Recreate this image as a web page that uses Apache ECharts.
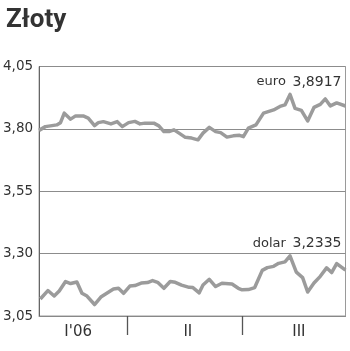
<!DOCTYPE html>
<html>
<head>
<meta charset="utf-8">
<script src="https://cdn.jsdelivr.net/npm/echarts@6/dist/echarts.min.js"></script>
<style>
html,body{margin:0;padding:0;background:#fff;}
#chart{width:350px;height:351px;}
</style>
</head>
<body>
<div id="chart"></div>
<script>
// Day of year 2006 (0 = 1 Jan)
var euroDays = [20,25,29,34,37,40,45,49,55,59,64,67,71,77,82,86,91,96,100,104,111,115,119,123,127,131,136,141,146,150,155,160,164,169,174,179,182,186,192,198,206,211,215,219,223,228,233,238,243,247,251,256,263];
var euroValues = [3.794,3.809,3.812,3.816,3.825,3.863,3.839,3.852,3.852,3.843,3.813,3.825,3.829,3.820,3.829,3.809,3.825,3.830,3.820,3.823,3.823,3.812,3.789,3.789,3.796,3.783,3.766,3.763,3.756,3.783,3.806,3.789,3.785,3.767,3.772,3.774,3.769,3.803,3.816,3.863,3.876,3.890,3.896,3.938,3.882,3.874,3.832,3.886,3.898,3.920,3.892,3.904,3.8917];
var dolarDays = [21,27,32,36,41,45,50,54,58,64,69,74,79,83,87,92,96,101,106,110,114,119,124,128,133,139,142,147,150,155,160,165,173,178,181,186,191,197,201,206,210,215,219,224,229,233,238,243,248,252,256,263];
var dolarValues = [3.118,3.152,3.130,3.150,3.188,3.180,3.186,3.141,3.130,3.096,3.126,3.142,3.158,3.161,3.141,3.170,3.172,3.182,3.184,3.192,3.185,3.161,3.188,3.185,3.174,3.165,3.164,3.143,3.174,3.197,3.168,3.181,3.178,3.161,3.155,3.156,3.164,3.233,3.244,3.249,3.261,3.267,3.291,3.226,3.204,3.146,3.182,3.209,3.243,3.224,3.260,3.2335];
var quarterTickDays = [90, 181];
var quarterLabelDays = [51, 138, 226];
var quarterLabels = ["I'06", "II", "III"];
var seriesNames = ['euro', 'dolar'];

function pairs(xs, ys) { return xs.map(function (x, i) { return [x, ys[i]]; }); }
function fmt(v, d) { return v.toFixed(d).replace('.', ','); }

var chart = echarts.init(document.getElementById('chart'));
var lineColor = '#9b9b9b';
function endLabel(offY) {
  return {
    show: true, align: 'right', verticalAlign: 'middle', distance: 0, offset: [-4, offY],
    formatter: function (p) { return '{a|' + p.seriesName + '}  {b|' + fmt(p.value[1], 4) + '}'; },
    rich: {
      a: { fontFamily: 'DejaVu Sans', fontSize: 13, color: '#333' },
      b: { fontFamily: 'DejaVu Sans', fontSize: 14, color: '#333' }
    }
  };
}
chart.setOption({
  animation: false,
  title: {
    text: 'Złoty', left: 1, top: 2,
    textStyle: { fontFamily: 'Roboto', fontWeight: 'bold', fontSize: 26, color: '#333' }
  },
  grid: { left: 38.5, right: 4.5, top: 66.5, bottom: 35, show: true, borderColor: '#9a9a9a', borderWidth: 1 },
  xAxis: {
    type: 'value', min: 20, max: 263,
    axisLine: { show: true, lineStyle: { color: '#888', width: 1 } },
    axisTick: { show: true, customValues: quarterTickDays, length: 19, lineStyle: { color: '#555', width: 1.3 } },
    axisLabel: {
      customValues: quarterLabelDays, margin: 9,
      fontFamily: 'DejaVu Sans', fontSize: 15, color: '#333',
      formatter: function (v) { var i = quarterLabelDays.indexOf(v); return i >= 0 ? quarterLabels[i] : ''; }
    },
    splitLine: { show: false }
  },
  yAxis: {
    type: 'value', min: 3.05, max: 4.05, interval: 0.25,
    axisLine: { show: true, lineStyle: { color: '#666', width: 1 } },
    axisTick: { show: false },
    axisLabel: {
      margin: 6, fontFamily: 'DejaVu Sans', fontSize: 13.5, color: '#333',
      formatter: function (v) { return fmt(v, 2); }
    },
    splitLine: { show: true, lineStyle: { color: '#8c8c8c', width: 1 } }
  },
  series: [
    { name: seriesNames[0], type: 'line', data: pairs(euroDays, euroValues), showSymbol: false,
      lineStyle: { color: lineColor, width: 3.5, join: 'round' }, endLabel: endLabel(-24), z: 3 },
    { name: seriesNames[1], type: 'line', data: pairs(dolarDays, dolarValues), showSymbol: false,
      lineStyle: { color: lineColor, width: 3.5, join: 'round' }, endLabel: endLabel(-27), z: 3 }
  ]
});
</script>
</body>
</html>
